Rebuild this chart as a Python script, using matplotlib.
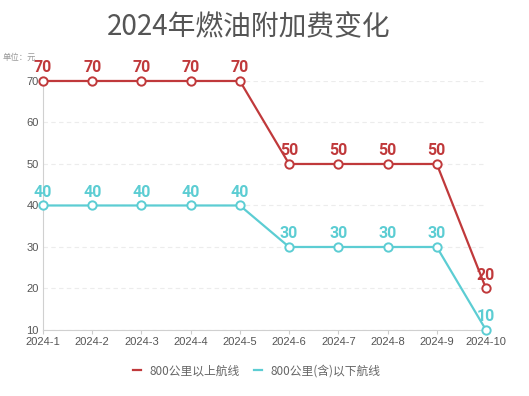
import matplotlib.pyplot as plt
from matplotlib.lines import Line2D

plt.rcParams['font.family'] = ['Noto Sans CJK SC', 'DejaVu Sans']

months = ["2024-1", "2024-2", "2024-3", "2024-4", "2024-5",
          "2024-6", "2024-7", "2024-8", "2024-9", "2024-10"]
long_haul = [70, 70, 70, 70, 70, 50, 50, 50, 50, 20]
short_haul = [40, 40, 40, 40, 40, 30, 30, 30, 30, 10]
y_ticks = [10, 20, 30, 40, 50, 60, 70]
series_names = ["800公里以上航线", "800公里(含)以下航线"]

red = "#c0393b"
cyan = "#5ccdd3"

fig = plt.figure(figsize=(5.29, 3.96), dpi=100)
ax = fig.add_axes([0.0813, 0.1667, 0.8374, 0.6288])

x = list(range(len(months)))
for vals, col in [(long_haul, red), (short_haul, cyan)]:
    ax.plot(x, vals, color=col, lw=1.6, marker="o", ms=6, mfc="white",
            mec=col, mew=1.4, clip_on=False, zorder=3)
    for xi, v in zip(x, vals):
        ax.annotate(str(v), (xi, v), xytext=(0, 4), textcoords="offset points",
                    ha="center", va="bottom", color=col, fontsize=11.5,
                    fontweight="bold", family=["Roboto", "DejaVu Sans"])

ax.set_xlim(0, len(months) - 1)
ax.set_ylim(10, 70)
ax.set_yticks(y_ticks)
ax.set_xticks(x)
ax.set_xticklabels(months)
ax.tick_params(axis="both", labelsize=8, colors="#555555", length=3, pad=2)
ax.tick_params(axis="y", length=0, pad=3)
ax.tick_params(axis="x", color="#cccccc")
for lab in ax.get_yticklabels() + ax.get_xticklabels():
    lab.set_family(["Liberation Sans", "DejaVu Sans"])

ax.grid(axis="y", color="#ececec", linestyle=(0, (4, 3)), lw=0.8)
ax.spines["top"].set_visible(False)
ax.spines["right"].set_visible(False)
ax.spines["left"].set_color("#d0d0d0")
ax.spines["bottom"].set_color("#d0d0d0")

fig.text(0.471, 0.932, "2024年燃油附加费变化", ha="center", va="center",
         fontsize=20, color="#555555")
fig.text(0.068, 0.856, "单位：元", ha="right", va="center",
         fontsize=6, color="#999999")

handles = [Line2D([], [], color=red, lw=1.6), Line2D([], [], color=cyan, lw=1.6)]
leg = fig.legend(handles, series_names, loc="center",
                 bbox_to_anchor=(0.485, 0.063), ncol=2, frameon=False,
                 fontsize=8.5, handlelength=0.7, columnspacing=1.2,
                 handletextpad=0.7)
for t in leg.get_texts():
    t.set_color("#666666")

fig.savefig("out.png", dpi=100)
